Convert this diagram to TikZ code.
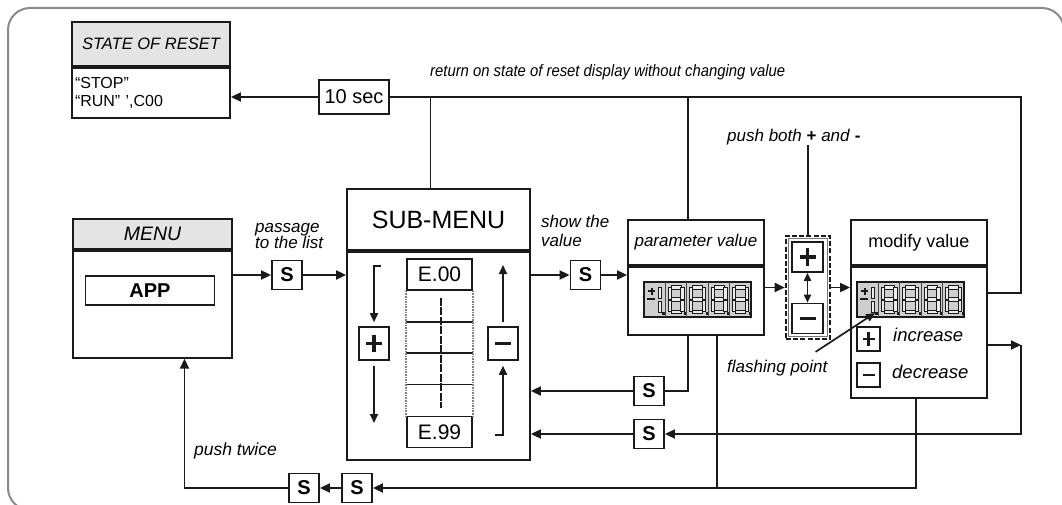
\documentclass[tikz,border=0pt]{standalone}
\usepackage{fontspec}
\setmainfont{Liberation Sans}
\usetikzlibrary{arrows.meta,calc}

\definecolor{headgray}{HTML}{E4E4E4}
\definecolor{dispgray}{HTML}{CFCFCF}
\definecolor{framegray}{HTML}{8A8A8A}
\definecolor{ink}{HTML}{1A1A1A}
\newcommand{\sizept}[1]{\fontsize{#1}{#1}\selectfont}

\tikzset{
  box/.style={draw=ink, line width=1.8pt, inner sep=0pt},
  headbox/.style={box, fill=headgray},
  sbtn/.style={box, minimum width=30pt, minimum height=29pt, font=\bfseries\sizept{20}},
  lbl/.style={font=\itshape\sizept{17}, align=left, inner sep=0pt},
  link/.style={draw=ink, line width=1.8pt},
  arr/.style={link, -{Triangle[length=10pt,width=9pt]}},
  arrs/.style={link, line width=1.7pt, -{Triangle[length=9pt,width=8pt]}},
  dbl/.style={link, line width=1.7pt, {Triangle[length=8pt,width=7pt]}-{Triangle[length=8pt,width=7pt]}},
  seg/.style={draw=ink, line width=0.9pt, fill=dispgray!40},
  plusbtn/.style={box, line width=1.6pt, path picture={
      \draw[ink, line width=0.45*#1pt]
        ([yshift=-1.1*#1pt]path picture bounding box.center) -- ([yshift=1.1*#1pt]path picture bounding box.center)
        ([xshift=-#1pt]path picture bounding box.center) -- ([xshift=#1pt]path picture bounding box.center);}},
  plusbtn/.default=8,
  minusbtn/.style={box, line width=1.6pt, path picture={
      \draw[ink, line width=0.48*#1pt]
        ([xshift=-#1pt]path picture bounding box.center) -- ([xshift=#1pt]path picture bounding box.center);}},
  minusbtn/.default=8,
  segdisp/.pic={
    \draw[ink, line width=1.1pt, fill=dispgray] (0,0) rectangle (107,35);
    % sign cell
    \draw[ink, line width=2pt] (4,9) -- (11,9) (7.5,5.5) -- (7.5,12.5);
    \draw[ink, line width=2pt] (3,17) -- (11,17);
    \draw[seg] (14,5) rectangle (17.5,16);
    \draw[seg] (14,19) rectangle (17.5,30);
    \fill[ink] (18,30) rectangle (20.5,32.5);
    \foreach \d in {21,42.5,64,85.5}{
      \draw[ink!80, line width=0.8pt] (\d,0) -- (\d,35);
      \draw[seg] (\d+6,3.5) rectangle (\d+16,7);
      \draw[seg] (\d+6,15.8) rectangle (\d+16,19.2);
      \draw[seg] (\d+6,28) rectangle (\d+16,31.5);
      \draw[seg] (\d+3,5.5) rectangle (\d+6.3,17);
      \draw[seg] (\d+3,18) rectangle (\d+6.3,29.5);
      \draw[seg] (\d+15.7,5.5) rectangle (\d+19,17);
      \draw[seg] (\d+15.7,18) rectangle (\d+19,29.5);
      \fill[ink] (\d+19,30) rectangle (\d+21,32.5);
    }
  }
}

\begin{document}
\begin{tikzpicture}[x=1pt,y=-1pt]
  \useasboundingbox (0,0) rectangle (1062,505);
  \draw[framegray, line width=2pt, rounded corners=22pt] (1064,60) -- (1064,8) -- (8,8) -- (8,510) -- (60,510);

  % state of reset
  \node[headbox, minimum width=158pt, minimum height=44pt, font=\itshape\sizept{16.5}] (sorhead) at (151,44) {STATE OF RESET};
  \node[box, anchor=north, minimum height=50pt, text width=152pt, inner xsep=3pt, align=left,
        font=\fontsize{16}{18}\selectfont] (sorbody) at (sorhead.south) {“STOP”\\“RUN” ',C00};
  \node[box, minimum width=70pt, minimum height=34pt, font=\sizept{20}] (tensec) at (354,97) {10 sec};
  \node[lbl, anchor=west, font=\itshape\sizept{16.5}] (retlbl) at (430,72)
    {\scalebox{0.9}[1]{return on state of reset display without changing value}};

  % menu
  \node[headbox, minimum width=159pt, minimum height=30pt, font=\itshape\sizept{19.5}] (menuhead) at (152.5,234) {MENU};
  \node[box, anchor=north, minimum width=159pt, minimum height=107pt] (menubody) at (menuhead.south) {};
  \node[box, minimum width=129pt, minimum height=29pt, font=\bfseries\sizept{20}] (app) at (150,290.5) {APP};
  \node[lbl, anchor=west, font=\itshape\fontsize{17}{14}\selectfont] (passlbl) at (255,236) {passage\\to the list};
  \node[sbtn] (s1) at (287,275) {S};

  % sub-menu
  \node[box, minimum width=183pt, minimum height=61pt, font=\sizept{25}] (subhead) at (438.5,219.5) {SUB-MENU};
  \node[box, anchor=north, minimum width=183pt, minimum height=208pt] (subbody) at (subhead.south) {};
  \node[box, line width=1.6pt, minimum width=65pt, minimum height=31pt, font=\sizept{21}] (e00) at (439.5,274.5) {E.00};
  \node[box, line width=1.6pt, minimum width=65pt, minimum height=31pt, font=\sizept{21}] (e99) at (439.5,432) {E.99};
  \foreach \k in {1,2,3}
    \draw[link, line width=1.6pt] ($(e00.south west)!\k/4!(e99.north west)$) -- ($(e00.south east)!\k/4!(e99.north east)$);
  \draw[gray, densely dotted, line width=1.6pt] (e00.south west) -- (e99.north west) (e00.south east) -- (e99.north east);
  \draw[ink, line width=2.8pt, dash pattern=on 8pt off 1.5pt] ([xshift=1.5pt,yshift=-7pt]e00.south) -- ([xshift=1.5pt,yshift=7.5pt]e99.north);
  \node[plusbtn=8, minimum width=30pt, minimum height=33pt] (subplus) at (374,343.5) {};
  \node[minusbtn=8, minimum width=30pt, minimum height=33pt] (subminus) at (503,343.5) {};
  \coordinate (hookl) at (381,266);
  \coordinate (pldown) at (374,423);
  \coordinate (miup) at (503,265);
  \coordinate (hookr) at (495,435);
  \draw[arrs] (hookl) -| ([yshift=4pt]subplus.north);
  \draw[arrs] ([yshift=-5pt]subplus.south) -- (pldown);
  \draw[arrs] ([yshift=4pt]subminus.north) -- (miup);
  \draw[arrs] (hookr) -| ([yshift=-5pt]subminus.south);

  % parameter value
  \node[lbl, anchor=west, font=\itshape\fontsize{17}{19}\selectfont] (showlbl) at (541,231) {show the\\value};
  \node[sbtn] (s2) at (585.5,275) {S};
  \node[box, minimum width=136pt, minimum height=45pt, font=\itshape\sizept{17}] (parhead) at (696,242.5) {parameter value};
  \node[box, anchor=north, minimum width=136pt, minimum height=68pt] (parbody) at (parhead.south) {};
  \pic at (644,282) {segdisp};

  % push both
  \node[draw=ink, line width=2.6pt, dash pattern=on 5pt off 2.2pt, minimum width=44pt, minimum height=103pt] (dbox) at (808,287.5) {};
  \draw[ink!60, line width=0.8pt] ($(dbox.north west)+(3.5,3.5)$) rectangle ($(dbox.south east)+(-3.5,-3.5)$);
  \node[plusbtn=8, minimum width=31pt, minimum height=30pt] (dplus) at (807.5,257) {};
  \node[minusbtn=8, minimum width=31pt, minimum height=30pt] (dminus) at (807.5,318.5) {};
  \draw[dbl] (dplus.south) -- (dminus.north);
  \node[lbl, anchor=west] (pushlbl) at (727,137) {push both \textup{\textbf{+}} and \textup{\textbf{-}}};
  \draw[link] (dbox.north) -- (dbox.north |- pushlbl.south);

  % modify value
  \node[box, minimum width=136pt, minimum height=45pt, font=\sizept{18}] (modhead) at (919,242.5) {modify value};
  \node[box, anchor=north, minimum width=136pt, minimum height=131pt] (modbody) at (modhead.south) {};
  \pic at (857,282) {segdisp};
  \node[plusbtn=6, minimum width=23pt, minimum height=24pt] (modplus) at (868.5,339) {};
  \node[minusbtn=6, minimum width=23pt, minimum height=24pt] (modminus) at (868.5,375) {};
  \node[lbl, anchor=west, font=\itshape\sizept{18.5}] (inclbl) at (893,335) {increase};
  \node[lbl, anchor=west, font=\itshape\sizept{18.5}] (declbl) at (892,372) {decrease};
  \node[lbl, anchor=west] (flashlbl) at (727,368) {flashing point};
  \coordinate (flashtip) at (875,313);
  \draw[arrs] ($(flashlbl.north east)+(-12,-8)$) -- (flashtip);

  % connectors
  \draw[arr] (menubody.east |- s1) -- (s1);
  \draw[arr] (s1) -- (subbody.west |- s1);
  \draw[arr] (subbody.east |- s2) -- (s2);
  \draw[arr] (s2) -- (parbody.west |- s2);
  \draw[arr] (parbody.east |- dbox) -- (dbox);
  \draw[arr] (dbox) -- (modbody.west |- dbox);

  \draw[arr] (tensec) -- (sorbody.east |- tensec);
  \coordinate (rtop) at (1021,293);
  \draw[link] (tensec) -| (rtop) -- (modbody.east |- rtop);
  \draw[link] ([xshift=-8pt]subhead.north) -- ([xshift=-8pt]subhead.north |- tensec);
  \draw[link] ([xshift=-8pt]parhead.north) -- ([xshift=-8pt]parhead.north |- tensec);

  \node[sbtn] (s3) at (649,391) {S};
  \node[sbtn] (s4) at (649,434) {S};
  \draw[link] ([xshift=-8pt]parbody.south) |- (s3);
  \draw[arr] (s3) -- (subbody.east |- s3);
  \coordinate (rlow) at (1021,345);
  \draw[arr] (modbody.east |- rlow) -- (rlow);
  \draw[arr] (rlow) |- (s4);
  \draw[arr] (s4) -- (subbody.east |- s4);

  \node[sbtn] (sb2) at (357,488) {S};
  \node[sbtn] (sb1) at (304,488) {S};
  \draw[arr] ([xshift=-3pt]modbody.south) |- (sb2);
  \draw[link] ([xshift=21pt]parbody.south) -- ([xshift=21pt]parbody.south |- sb2);
  \draw[arr] (sb2) -- (sb1);
  \draw[arr] (sb1) -| ([xshift=32pt]menubody.south);
  \node[lbl, anchor=west, font=\itshape\sizept{17.5}] (twicelbl) at (194,451) {push twice};
\end{tikzpicture}
\end{document}
